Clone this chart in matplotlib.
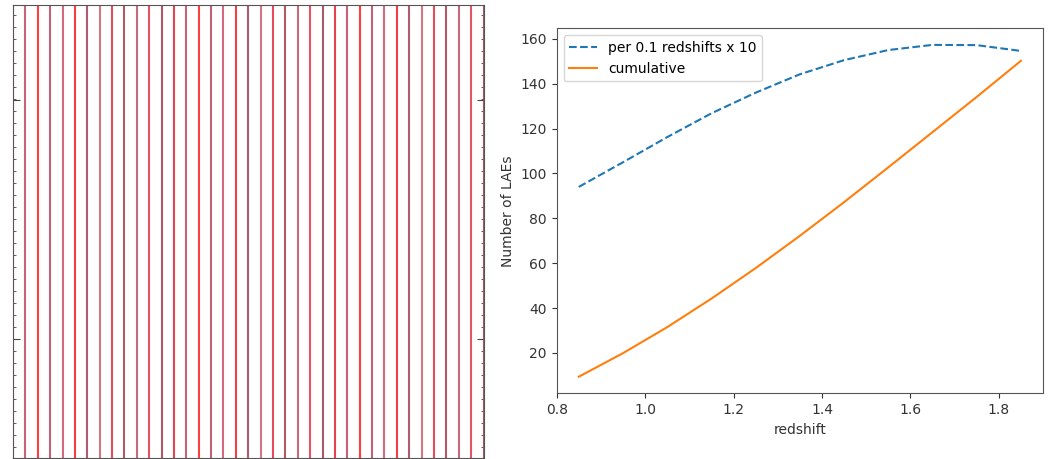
import matplotlib
matplotlib.use("Agg")
import matplotlib.pyplot as plt
import numpy as np

# Left panel: vertical red line positions (arbitrary units)
line_positions = list(range(0, 39))
line_colors = ["#e0303c", "#c4506a", "#ff2a2a", "#b85068", "#d05a70", "#f02a30",
               "#a84a60", "#d06878", "#e03848", "#a84858", "#c05a70", "#e04050",
               "#a04858"]

# Right panel data
redshift = [0.85, 0.95, 1.05, 1.15, 1.25, 1.35, 1.45, 1.55, 1.65, 1.75, 1.85]
per_bin_x10 = [94, 105, 116.2, 126.8, 136, 144.2, 150.5, 155, 157.3, 157.2, 154.6]
cumulative = [9.4, 19.9, 31.5, 44.2, 57.8, 72.2, 87.2, 102.7, 118.4, 134.1, 150.2]

W, H = 1048, 459
fig = plt.figure(figsize=(W / 100, H / 100), dpi=100)

# Left axes
axL = fig.add_axes([13 / W, 1 / H, (483.5 - 13) / W, (458 - 5) / H])
for i, xp in enumerate(line_positions):
    axL.axvline(xp, color=line_colors[i % len(line_colors)], lw=1.5, alpha=0.9)
axL.set_xlim(0, 38)
axL.set_ylim(0, 453)
axL.set_xticks([])
axL.yaxis.set_ticks_position("both")
axL.tick_params(axis="y", which="both", direction="in", labelleft=False, labelright=False)
axL.set_yticks([458 - 339, 458 - 100])
axL.set_yticks(np.arange(458 - 339 - 12 * 9, 453, 12.0), minor=True)
axL.tick_params(axis="y", which="major", length=5, width=0.8, color="#444444")
axL.tick_params(axis="y", which="minor", length=2.5, width=0.6, color="#444444")
for s in axL.spines.values():
    s.set_color("#555555")

# Right axes
axR = fig.add_axes([556.7 / W, (H - 393.3) / H, (1043 - 556.7) / W, (393.3 - 28.3) / H])
axR.plot(redshift, per_bin_x10, "--", color="#1f77b4", lw=1.5, label="per 0.1 redshifts x 10")
axR.plot(redshift, cumulative, "-", color="#ff7f0e", lw=1.5, label="cumulative")
axR.set_xticks([0.8, 1.0, 1.2, 1.4, 1.6, 1.8])
axR.set_yticks([20, 40, 60, 80, 100, 120, 140, 160])
axR.tick_params(labelsize=10, colors="#333333")
axR.set_xlabel("redshift", fontsize=10, color="#333333")
axR.set_ylabel("Number of LAEs", fontsize=10, color="#333333")
axR.legend(loc="upper left", fontsize=10)
for s in axR.spines.values():
    s.set_color("#555555")

fig.savefig("out.png", dpi=100)
